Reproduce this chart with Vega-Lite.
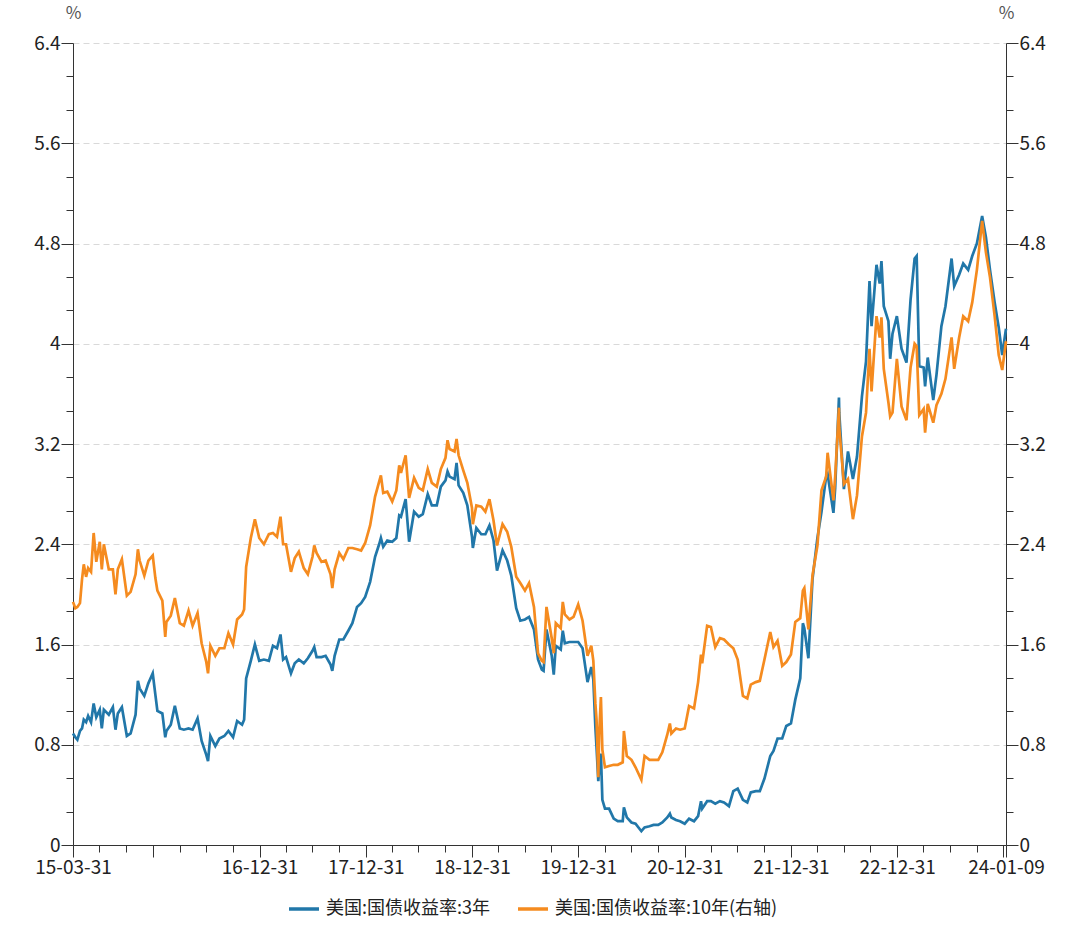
{
  "$schema": "https://vega.github.io/schema/vega-lite/v6.json",
  "width": 933,
  "height": 802,
  "autosize": {"type": "none"},
  "padding": {"left": 73, "top": 43, "right": 74, "bottom": 82},
  "config": {
    "view": {"stroke": null},
    "font": "Noto Sans CJK SC",
    "axis": {"labelFont": "Noto Sans CJK SC", "titleFont": "Noto Sans CJK SC", "domainColor": "#333333", "tickColor": "#333333", "labelColor": "#222222", "labelFontSize": 19, "titleFontSize": 17, "titleFontWeight": "normal", "titleColor": "#555555"}
  },
  "data": {"values": [
{"date":"2015-03-31","y3":0.89,"y10":1.94},
{"date":"2015-04-08","y3":0.86,"y10":1.89},
{"date":"2015-04-15","y3":0.84,"y10":1.90},
{"date":"2015-04-24","y3":0.91,"y10":1.93},
{"date":"2015-05-01","y3":0.93,"y10":2.12},
{"date":"2015-05-07","y3":1.00,"y10":2.24},
{"date":"2015-05-15","y3":0.98,"y10":2.14},
{"date":"2015-05-22","y3":1.03,"y10":2.21},
{"date":"2015-06-01","y3":0.98,"y10":2.18},
{"date":"2015-06-10","y3":1.13,"y10":2.49},
{"date":"2015-06-19","y3":1.02,"y10":2.26},
{"date":"2015-07-01","y3":1.08,"y10":2.42},
{"date":"2015-07-08","y3":0.93,"y10":2.20},
{"date":"2015-07-15","y3":1.08,"y10":2.40},
{"date":"2015-08-01","y3":1.04,"y10":2.20},
{"date":"2015-08-15","y3":1.10,"y10":2.20},
{"date":"2015-08-24","y3":0.92,"y10":2.00},
{"date":"2015-09-01","y3":1.05,"y10":2.20},
{"date":"2015-09-15","y3":1.10,"y10":2.28},
{"date":"2015-10-02","y3":0.87,"y10":1.99},
{"date":"2015-10-15","y3":0.89,"y10":2.02},
{"date":"2015-11-01","y3":1.04,"y10":2.16},
{"date":"2015-11-09","y3":1.31,"y10":2.36},
{"date":"2015-11-15","y3":1.25,"y10":2.27},
{"date":"2015-12-01","y3":1.19,"y10":2.15},
{"date":"2015-12-15","y3":1.29,"y10":2.27},
{"date":"2015-12-30","y3":1.37,"y10":2.31},
{"date":"2016-01-08","y3":1.20,"y10":2.13},
{"date":"2016-01-15","y3":1.07,"y10":2.03},
{"date":"2016-02-01","y3":1.05,"y10":1.95},
{"date":"2016-02-11","y3":0.86,"y10":1.66},
{"date":"2016-02-15","y3":0.91,"y10":1.78},
{"date":"2016-03-01","y3":0.96,"y10":1.83},
{"date":"2016-03-15","y3":1.11,"y10":1.97},
{"date":"2016-04-01","y3":0.93,"y10":1.77},
{"date":"2016-04-15","y3":0.92,"y10":1.75},
{"date":"2016-05-01","y3":0.93,"y10":1.87},
{"date":"2016-05-15","y3":0.92,"y10":1.75},
{"date":"2016-06-01","y3":1.01,"y10":1.85},
{"date":"2016-06-15","y3":0.83,"y10":1.61},
{"date":"2016-07-01","y3":0.72,"y10":1.46},
{"date":"2016-07-07","y3":0.67,"y10":1.37},
{"date":"2016-07-15","y3":0.87,"y10":1.59},
{"date":"2016-08-01","y3":0.79,"y10":1.51},
{"date":"2016-08-15","y3":0.85,"y10":1.57},
{"date":"2016-09-01","y3":0.87,"y10":1.57},
{"date":"2016-09-15","y3":0.91,"y10":1.69},
{"date":"2016-10-01","y3":0.86,"y10":1.60},
{"date":"2016-10-15","y3":0.99,"y10":1.80},
{"date":"2016-11-01","y3":0.96,"y10":1.84},
{"date":"2016-11-08","y3":1.00,"y10":1.88},
{"date":"2016-11-15","y3":1.33,"y10":2.22},
{"date":"2016-12-01","y3":1.47,"y10":2.45},
{"date":"2016-12-15","y3":1.60,"y10":2.60},
{"date":"2016-12-30","y3":1.47,"y10":2.45},
{"date":"2017-01-15","y3":1.48,"y10":2.40},
{"date":"2017-02-01","y3":1.47,"y10":2.48},
{"date":"2017-02-15","y3":1.59,"y10":2.49},
{"date":"2017-03-01","y3":1.57,"y10":2.46},
{"date":"2017-03-13","y3":1.68,"y10":2.62},
{"date":"2017-03-22","y3":1.48,"y10":2.40},
{"date":"2017-04-01","y3":1.50,"y10":2.40},
{"date":"2017-04-18","y3":1.37,"y10":2.18},
{"date":"2017-05-01","y3":1.45,"y10":2.29},
{"date":"2017-05-15","y3":1.48,"y10":2.34},
{"date":"2017-06-01","y3":1.45,"y10":2.21},
{"date":"2017-06-15","y3":1.49,"y10":2.16},
{"date":"2017-07-01","y3":1.55,"y10":2.30},
{"date":"2017-07-07","y3":1.58,"y10":2.39},
{"date":"2017-07-15","y3":1.50,"y10":2.33},
{"date":"2017-08-01","y3":1.50,"y10":2.26},
{"date":"2017-08-15","y3":1.51,"y10":2.27},
{"date":"2017-09-01","y3":1.44,"y10":2.16},
{"date":"2017-09-07","y3":1.39,"y10":2.05},
{"date":"2017-09-15","y3":1.51,"y10":2.20},
{"date":"2017-10-01","y3":1.64,"y10":2.33},
{"date":"2017-10-15","y3":1.64,"y10":2.28},
{"date":"2017-11-01","y3":1.71,"y10":2.37},
{"date":"2017-11-15","y3":1.77,"y10":2.37},
{"date":"2017-12-01","y3":1.90,"y10":2.36},
{"date":"2017-12-15","y3":1.93,"y10":2.35},
{"date":"2017-12-29","y3":1.98,"y10":2.41},
{"date":"2018-01-15","y3":2.10,"y10":2.55},
{"date":"2018-02-01","y3":2.30,"y10":2.78},
{"date":"2018-02-15","y3":2.40,"y10":2.90},
{"date":"2018-02-21","y3":2.45,"y10":2.95},
{"date":"2018-03-01","y3":2.38,"y10":2.81},
{"date":"2018-03-15","y3":2.43,"y10":2.82},
{"date":"2018-04-01","y3":2.42,"y10":2.74},
{"date":"2018-04-15","y3":2.45,"y10":2.83},
{"date":"2018-04-25","y3":2.63,"y10":3.03},
{"date":"2018-05-01","y3":2.62,"y10":2.97},
{"date":"2018-05-17","y3":2.76,"y10":3.11},
{"date":"2018-05-29","y3":2.42,"y10":2.77},
{"date":"2018-06-15","y3":2.66,"y10":2.93},
{"date":"2018-07-01","y3":2.62,"y10":2.85},
{"date":"2018-07-15","y3":2.64,"y10":2.83},
{"date":"2018-08-01","y3":2.80,"y10":3.00},
{"date":"2018-08-15","y3":2.71,"y10":2.89},
{"date":"2018-09-01","y3":2.71,"y10":2.86},
{"date":"2018-09-15","y3":2.86,"y10":3.00},
{"date":"2018-10-01","y3":2.91,"y10":3.09},
{"date":"2018-10-08","y3":2.98,"y10":3.23},
{"date":"2018-10-15","y3":2.94,"y10":3.16},
{"date":"2018-11-01","y3":2.92,"y10":3.14},
{"date":"2018-11-08","y3":3.05,"y10":3.24},
{"date":"2018-11-15","y3":2.87,"y10":3.11},
{"date":"2018-12-01","y3":2.81,"y10":2.99},
{"date":"2018-12-15","y3":2.71,"y10":2.89},
{"date":"2018-12-31","y3":2.46,"y10":2.69},
{"date":"2019-01-03","y3":2.37,"y10":2.56},
{"date":"2019-01-15","y3":2.53,"y10":2.71},
{"date":"2019-02-01","y3":2.48,"y10":2.70},
{"date":"2019-02-15","y3":2.48,"y10":2.66},
{"date":"2019-03-01","y3":2.55,"y10":2.76},
{"date":"2019-03-15","y3":2.43,"y10":2.59},
{"date":"2019-03-27","y3":2.19,"y10":2.39},
{"date":"2019-04-15","y3":2.35,"y10":2.56},
{"date":"2019-05-01","y3":2.27,"y10":2.50},
{"date":"2019-05-15","y3":2.15,"y10":2.38},
{"date":"2019-06-01","y3":1.89,"y10":2.14},
{"date":"2019-06-15","y3":1.79,"y10":2.09},
{"date":"2019-07-01","y3":1.80,"y10":2.03},
{"date":"2019-07-15","y3":1.82,"y10":2.09},
{"date":"2019-08-01","y3":1.72,"y10":1.90},
{"date":"2019-08-15","y3":1.48,"y10":1.53},
{"date":"2019-08-28","y3":1.40,"y10":1.47},
{"date":"2019-09-03","y3":1.39,"y10":1.46},
{"date":"2019-09-13","y3":1.72,"y10":1.90},
{"date":"2019-10-01","y3":1.51,"y10":1.65},
{"date":"2019-10-08","y3":1.36,"y10":1.53},
{"date":"2019-10-15","y3":1.59,"y10":1.77},
{"date":"2019-11-01","y3":1.56,"y10":1.73},
{"date":"2019-11-08","y3":1.71,"y10":1.94},
{"date":"2019-11-15","y3":1.61,"y10":1.84},
{"date":"2019-12-01","y3":1.62,"y10":1.80},
{"date":"2019-12-15","y3":1.62,"y10":1.82},
{"date":"2019-12-31","y3":1.62,"y10":1.92},
{"date":"2020-01-15","y3":1.57,"y10":1.79},
{"date":"2020-02-01","y3":1.30,"y10":1.51},
{"date":"2020-02-14","y3":1.42,"y10":1.59},
{"date":"2020-02-21","y3":1.32,"y10":1.47},
{"date":"2020-02-28","y3":0.94,"y10":1.13},
{"date":"2020-03-03","y3":0.78,"y10":1.00},
{"date":"2020-03-09","y3":0.51,"y10":0.54},
{"date":"2020-03-12","y3":0.60,"y10":0.88},
{"date":"2020-03-18","y3":0.73,"y10":1.18},
{"date":"2020-03-23","y3":0.36,"y10":0.76},
{"date":"2020-04-01","y3":0.29,"y10":0.62},
{"date":"2020-04-15","y3":0.29,"y10":0.63},
{"date":"2020-05-01","y3":0.21,"y10":0.64},
{"date":"2020-05-15","y3":0.19,"y10":0.64},
{"date":"2020-06-01","y3":0.19,"y10":0.66},
{"date":"2020-06-05","y3":0.30,"y10":0.91},
{"date":"2020-06-15","y3":0.22,"y10":0.71},
{"date":"2020-07-01","y3":0.18,"y10":0.68},
{"date":"2020-07-15","y3":0.17,"y10":0.62},
{"date":"2020-08-04","y3":0.11,"y10":0.52},
{"date":"2020-08-15","y3":0.14,"y10":0.71},
{"date":"2020-09-01","y3":0.15,"y10":0.68},
{"date":"2020-09-15","y3":0.16,"y10":0.68},
{"date":"2020-10-01","y3":0.16,"y10":0.68},
{"date":"2020-10-15","y3":0.18,"y10":0.74},
{"date":"2020-11-01","y3":0.22,"y10":0.88},
{"date":"2020-11-10","y3":0.25,"y10":0.97},
{"date":"2020-11-15","y3":0.22,"y10":0.89},
{"date":"2020-12-01","y3":0.20,"y10":0.93},
{"date":"2020-12-15","y3":0.19,"y10":0.92},
{"date":"2020-12-31","y3":0.17,"y10":0.93},
{"date":"2021-01-15","y3":0.21,"y10":1.11},
{"date":"2021-02-01","y3":0.19,"y10":1.09},
{"date":"2021-02-15","y3":0.23,"y10":1.30},
{"date":"2021-02-25","y3":0.35,"y10":1.52},
{"date":"2021-03-01","y3":0.29,"y10":1.45},
{"date":"2021-03-18","y3":0.35,"y10":1.75},
{"date":"2021-03-31","y3":0.35,"y10":1.74},
{"date":"2021-04-15","y3":0.33,"y10":1.58},
{"date":"2021-05-01","y3":0.35,"y10":1.65},
{"date":"2021-05-15","y3":0.34,"y10":1.64},
{"date":"2021-06-01","y3":0.31,"y10":1.60},
{"date":"2021-06-16","y3":0.43,"y10":1.57},
{"date":"2021-07-01","y3":0.45,"y10":1.48},
{"date":"2021-07-19","y3":0.36,"y10":1.19},
{"date":"2021-08-03","y3":0.34,"y10":1.17},
{"date":"2021-08-15","y3":0.42,"y10":1.28},
{"date":"2021-09-01","y3":0.43,"y10":1.30},
{"date":"2021-09-15","y3":0.43,"y10":1.31},
{"date":"2021-10-01","y3":0.53,"y10":1.48},
{"date":"2021-10-21","y3":0.71,"y10":1.70},
{"date":"2021-11-01","y3":0.75,"y10":1.58},
{"date":"2021-11-15","y3":0.85,"y10":1.63},
{"date":"2021-12-01","y3":0.85,"y10":1.43},
{"date":"2021-12-15","y3":0.95,"y10":1.46},
{"date":"2021-12-31","y3":0.97,"y10":1.52},
{"date":"2022-01-15","y3":1.16,"y10":1.78},
{"date":"2022-02-01","y3":1.33,"y10":1.81},
{"date":"2022-02-10","y3":1.77,"y10":2.03},
{"date":"2022-02-15","y3":1.73,"y10":2.05},
{"date":"2022-03-01","y3":1.49,"y10":1.72},
{"date":"2022-03-15","y3":2.12,"y10":2.15},
{"date":"2022-04-01","y3":2.45,"y10":2.39},
{"date":"2022-04-15","y3":2.66,"y10":2.83},
{"date":"2022-05-01","y3":2.94,"y10":2.94},
{"date":"2022-05-06","y3":2.96,"y10":3.13},
{"date":"2022-05-26","y3":2.65,"y10":2.75},
{"date":"2022-06-01","y3":2.85,"y10":2.94},
{"date":"2022-06-14","y3":3.57,"y10":3.49},
{"date":"2022-06-15","y3":3.45,"y10":3.33},
{"date":"2022-07-01","y3":2.84,"y10":2.88},
{"date":"2022-07-15","y3":3.14,"y10":2.92},
{"date":"2022-08-01","y3":2.92,"y10":2.60},
{"date":"2022-08-15","y3":3.10,"y10":2.79},
{"date":"2022-09-01","y3":3.58,"y10":3.26},
{"date":"2022-09-15","y3":3.86,"y10":3.45},
{"date":"2022-09-27","y3":4.50,"y10":3.96},
{"date":"2022-10-04","y3":4.14,"y10":3.62},
{"date":"2022-10-21","y3":4.63,"y10":4.22},
{"date":"2022-11-01","y3":4.48,"y10":4.05},
{"date":"2022-11-07","y3":4.66,"y10":4.21},
{"date":"2022-11-15","y3":4.30,"y10":3.80},
{"date":"2022-12-01","y3":4.18,"y10":3.53},
{"date":"2022-12-07","y3":3.88,"y10":3.42},
{"date":"2022-12-15","y3":4.08,"y10":3.45},
{"date":"2022-12-30","y3":4.22,"y10":3.88},
{"date":"2023-01-15","y3":3.96,"y10":3.50},
{"date":"2023-02-01","y3":3.85,"y10":3.39},
{"date":"2023-02-15","y3":4.35,"y10":3.81},
{"date":"2023-03-01","y3":4.68,"y10":4.00},
{"date":"2023-03-08","y3":4.70,"y10":3.98},
{"date":"2023-03-17","y3":3.82,"y10":3.43},
{"date":"2023-04-01","y3":3.81,"y10":3.48},
{"date":"2023-04-06","y3":3.66,"y10":3.29},
{"date":"2023-04-15","y3":3.89,"y10":3.52},
{"date":"2023-05-04","y3":3.55,"y10":3.37},
{"date":"2023-05-15","y3":3.75,"y10":3.51},
{"date":"2023-06-01","y3":4.14,"y10":3.60},
{"date":"2023-06-15","y3":4.30,"y10":3.72},
{"date":"2023-07-06","y3":4.68,"y10":4.05},
{"date":"2023-07-15","y3":4.46,"y10":3.80},
{"date":"2023-08-01","y3":4.55,"y10":4.05},
{"date":"2023-08-15","y3":4.64,"y10":4.22},
{"date":"2023-09-01","y3":4.59,"y10":4.18},
{"date":"2023-09-15","y3":4.70,"y10":4.33},
{"date":"2023-10-01","y3":4.80,"y10":4.59},
{"date":"2023-10-19","y3":5.02,"y10":4.98},
{"date":"2023-11-01","y3":4.85,"y10":4.73},
{"date":"2023-11-15","y3":4.59,"y10":4.53},
{"date":"2023-12-01","y3":4.33,"y10":4.22},
{"date":"2023-12-15","y3":4.13,"y10":3.91},
{"date":"2023-12-27","y3":3.91,"y10":3.79},
{"date":"2024-01-09","y3":4.12,"y10":4.02}
  ]},
  "encoding": {
    "x": {
      "field": "date",
      "type": "temporal",
      "scale": {"type": "utc", "domain": [{"year": 2015, "month": 3, "date": 31, "utc": true}, {"year": 2024, "month": 1, "date": 9, "utc": true}], "nice": false},
      "axis": {
        "title": null,
        "grid": false,
        "domainColor": "#333333",
        "values": [
          {"year":2015,"month":3,"date":31,"utc":true},{"year":2015,"month":6,"date":30,"utc":true},{"year":2015,"month":9,"date":30,"utc":true},{"year":2015,"month":12,"date":31,"utc":true},
          {"year":2016,"month":3,"date":31,"utc":true},{"year":2016,"month":6,"date":30,"utc":true},{"year":2016,"month":9,"date":30,"utc":true},{"year":2016,"month":12,"date":31,"utc":true},
          {"year":2017,"month":3,"date":31,"utc":true},{"year":2017,"month":6,"date":30,"utc":true},{"year":2017,"month":9,"date":30,"utc":true},{"year":2017,"month":12,"date":31,"utc":true},
          {"year":2018,"month":3,"date":31,"utc":true},{"year":2018,"month":6,"date":30,"utc":true},{"year":2018,"month":9,"date":30,"utc":true},{"year":2018,"month":12,"date":31,"utc":true},
          {"year":2019,"month":3,"date":31,"utc":true},{"year":2019,"month":6,"date":30,"utc":true},{"year":2019,"month":9,"date":30,"utc":true},{"year":2019,"month":12,"date":31,"utc":true},
          {"year":2020,"month":3,"date":31,"utc":true},{"year":2020,"month":6,"date":30,"utc":true},{"year":2020,"month":9,"date":30,"utc":true},{"year":2020,"month":12,"date":31,"utc":true},
          {"year":2021,"month":3,"date":31,"utc":true},{"year":2021,"month":6,"date":30,"utc":true},{"year":2021,"month":9,"date":30,"utc":true},{"year":2021,"month":12,"date":31,"utc":true},
          {"year":2022,"month":3,"date":31,"utc":true},{"year":2022,"month":6,"date":30,"utc":true},{"year":2022,"month":9,"date":30,"utc":true},{"year":2022,"month":12,"date":31,"utc":true},
          {"year":2023,"month":3,"date":31,"utc":true},{"year":2023,"month":6,"date":30,"utc":true},{"year":2023,"month":9,"date":30,"utc":true},{"year":2023,"month":12,"date":31,"utc":true},
          {"year":2024,"month":1,"date":9,"utc":true}
        ],
        "labelExpr": "((utcyear(datum.value) == 2015 && utcmonth(datum.value) == 2) || (utcmonth(datum.value) == 11 && utcyear(datum.value) >= 2016 && utcyear(datum.value) <= 2022) || utcyear(datum.value) == 2024) ? utcFormat(datum.value, '%y-%m-%d') : ''",
        "tickSize": {"condition": {"test": "utcmonth(datum.value) == 11 || utcyear(datum.value) == 2024 || (utcyear(datum.value) == 2015 && utcmonth(datum.value) == 2)", "value": 12}, "value": 7},
        "labelPadding": 1,
        "labelOverlap": false,
        "labelFlush": false
      }
    }
  },
  "layer": [
    {
      "mark": {"type": "line", "strokeWidth": 2.7, "interpolate": "linear"},
      "encoding": {
        "y": {
          "field": "y3", "type": "quantitative",
          "scale": {"domain": [0, 6.4], "nice": false, "zero": false},
          "axis": {
            "orient": "left",
            "title": "%",
            "titleAngle": 0,
            "titleX": 0,
            "titleY": -30,
            "titleAlign": "center",
            "titleBaseline": "middle",
            "values": [0,0.266667,0.533333,0.8,1.066667,1.333333,1.6,1.866667,2.133333,2.4,2.666667,2.933333,3.2,3.466667,3.733333,4,4.266667,4.533333,4.8,5.066667,5.333333,5.6,5.866667,6.133333,6.4],
            "labelExpr": "abs(datum.value/0.8 - round(datum.value/0.8)) < 0.01 ? format(datum.value, '.1~f') : ''",
            "tickSize": {"condition": {"test": "abs(datum.value/0.8 - round(datum.value/0.8)) < 0.01", "value": 12}, "value": 7},
            "labelPadding": 1,
            "grid": true,
            "gridColor": "#d9d9d9",
            "gridDash": [6, 4],
            "gridOpacity": {"condition": {"test": "abs(datum.value/0.8 - round(datum.value/0.8)) < 0.01 && datum.value > 0.1", "value": 1}, "value": 0},
            "labelOverlap": false,
            "labelFlush": false
          }
        },
        "color": {
          "datum": "美国:国债收益率:3年",
          "type": "nominal",
          "scale": {"domain": ["美国:国债收益率:3年", "美国:国债收益率:10年(右轴)"], "range": ["#2177a9", "#f58b1f"]},
          "legend": {
            "orient": "none",
            "legendX": 214,
            "legendY": 849,
            "direction": "horizontal",
            "title": null,
            "labelFont": "Noto Sans CJK SC",
            "labelFontSize": 18,
            "labelLimit": 0,
            "labelColor": "#222222",
            "symbolType": "stroke",
            "symbolStrokeWidth": 3.5,
            "symbolSize": 900,
            "labelOffset": 5,
            "columnPadding": 21,
            "padding": 0
          }
        }
      }
    },
    {
      "mark": {"type": "line", "strokeWidth": 2.7, "interpolate": "linear"},
      "encoding": {
        "y": {
          "field": "y10", "type": "quantitative",
          "scale": {"domain": [0, 6.4], "nice": false, "zero": false},
          "axis": {
            "orient": "right",
            "title": "%",
            "titleAngle": 0,
            "titleX": 0,
            "titleY": -30,
            "titleAlign": "center",
            "titleBaseline": "middle",
            "values": [0,0.266667,0.533333,0.8,1.066667,1.333333,1.6,1.866667,2.133333,2.4,2.666667,2.933333,3.2,3.466667,3.733333,4,4.266667,4.533333,4.8,5.066667,5.333333,5.6,5.866667,6.133333,6.4],
            "labelExpr": "abs(datum.value/0.8 - round(datum.value/0.8)) < 0.01 ? format(datum.value, '.1~f') : ''",
            "tickSize": {"condition": {"test": "abs(datum.value/0.8 - round(datum.value/0.8)) < 0.01", "value": 12}, "value": 7},
            "labelPadding": 1,
            "grid": false,
            "labelOverlap": false,
            "labelFlush": false
          }
        },
        "color": {"datum": "美国:国债收益率:10年(右轴)", "type": "nominal"}
      }
    }
  ],
  "resolve": {"scale": {"y": "independent"}}
}
